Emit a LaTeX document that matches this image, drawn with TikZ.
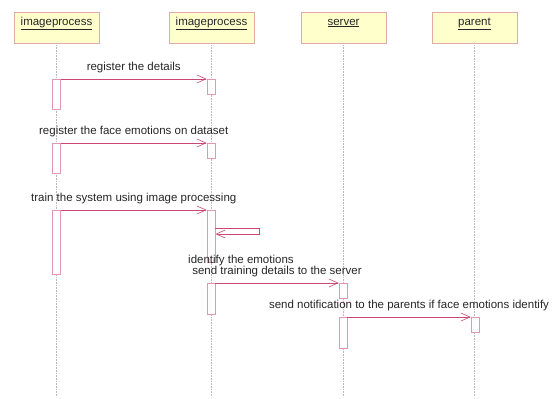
\documentclass[tikz,border=0pt]{standalone}
\usepackage{fontspec}
\setmainfont{Liberation Sans}
\usetikzlibrary{positioning,arrows.meta}
\definecolor{headFill}{RGB}{255,255,204}
\definecolor{headLine}{RGB}{226,170,170}
\definecolor{barLine}{RGB}{226,150,176}
\definecolor{msgColor}{RGB}{204,72,112}
\tikzstyle{diagram} = [x = 1pt, y = -1pt]
\tikzstyle{headBox} = [draw=headLine, fill=headFill, line width=.8pt, minimum width=85pt, minimum height=31pt, inner sep=0pt]
\tikzstyle{headText} = [font=\fontsize{11.5}{11}\selectfont, text=black!85, anchor=base, inner sep=0pt]
\tikzstyle{lifeLine} = [color=black!28, densely dotted, line width=.6pt]
\tikzstyle{actBar} = [draw=barLine, fill=white, line width=.7pt, minimum width=8pt, anchor=north, inner sep=0pt]
\tikzstyle{msgArrow} = [draw=msgColor, line width=.6pt, -{Straight Barb[length=9pt, width=8pt]}]
\tikzstyle{msgText} = [font=\fontsize{11.5}{11}\selectfont, text=black!85, anchor=base, inner sep=0pt, yshift=8.5pt, midway]
\newcommand{\participant}[3]{
  \node [headBox] (#1) at (#2, 27.5) {};
  \node [headText] (#1Text) at (#2, 25) {\underline{#3}};
  \coordinate (#1End) at (#2, 397);
  \draw [lifeLine] (#1) -- (#1End);
}
\newcommand{\activation}[4]{\node [actBar, minimum height={(#4-#3)*1pt}] (#1) at (#2, #3) {};}
\begin{document}
\begin{tikzpicture}[diagram]
  \useasboundingbox (0,0) rectangle (552,399);
  % participants
  \participant{procA}{56.5}{imageprocess}
  \participant{procB}{211.5}{imageprocess}
  \participant{server}{343.5}{server}
  \participant{parent}{474.5}{parent}
  % activations
  \activation{actA1}{56.5}{79}{109}
  \activation{actB1}{211}{79}{94}
  \activation{actA2}{56.5}{143}{173}
  \activation{actB2}{211}{143}{158}
  \activation{actA3}{56.5}{210}{274}
  \activation{actB3}{211}{210}{262}
  \activation{actB4}{211}{283}{314}
  \activation{actS1}{343}{283}{298}
  \activation{actS2}{343}{317}{348}
  \activation{actP1}{475}{317}{332}
  % messages
  \draw [msgArrow] (actA1.north east) -- node [msgText] (msgOne) {register the details} (actB1.north west);
  \draw [msgArrow] (actA2.north east) -- node [msgText] (msgTwo) {register the face emotions on dataset} (actB2.north west);
  \draw [msgArrow] (actA3.north east) -- node [msgText] (msgThree) {train the system using image processing} (actB3.north west);
  \coordinate (selfOut) at (215, 228);
  \coordinate (selfIn) at (215.5, 234);
  \draw [msgArrow] (selfOut) -- ++(44,0) -- ++(0,6) -- (selfIn);
  \node [headText, anchor=base west] (selfText) at (188, 263.5) {identify the emotions};
  \draw [msgArrow] (actB4.north east) -- node [msgText] (msgFour) {send training details to the server} (actS1.north west);
  \draw [msgArrow] (actS2.north east) -- node [msgText] (msgFive) {send notification to the parents if face emotions identify} (actP1.north west);
\end{tikzpicture}
\end{document}
